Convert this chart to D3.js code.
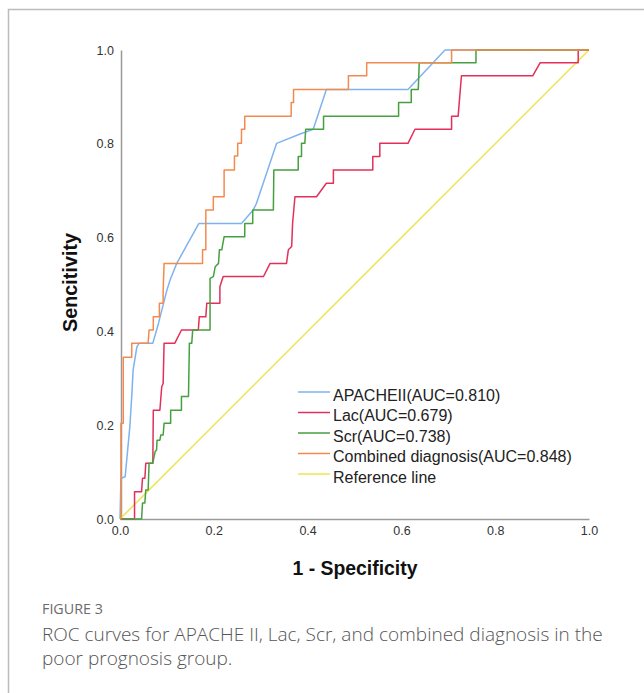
<!DOCTYPE html>
<html>
<head>
<meta charset="utf-8">
<script src="https://cdn.jsdelivr.net/npm/d3@7"></script>
<style>
  body { margin: 0; background: white; }
</style>
</head>
<body>
<div id="container"></div>
<script>
// ROC points: [1 - specificity, sensitivity]
let apache = [[0,0],[0.002,0.087],[0.011,0.09],[0.021,0.197],[0.025,0.261],[0.028,0.318],[0.036,0.367],[0.041,0.375],[0.07,0.375],[0.082,0.417],[0.1,0.488],[0.107,0.51],[0.121,0.545],[0.168,0.63],[0.259,0.63],[0.284,0.659],[0.291,0.673],[0.334,0.801],[0.384,0.821],[0.412,0.831],[0.44,0.916],[0.614,0.916],[0.693,1],[1,1]];

let lac = [[0,0],[0.031,0],[0.031,0.058],[0.046,0.058],[0.048,0.087],[0.053,0.087],[0.055,0.119],[0.07,0.119],[0.071,0.232],[0.085,0.232],[0.089,0.282],[0.092,0.289],[0.094,0.375],[0.117,0.375],[0.131,0.403],[0.167,0.403],[0.169,0.431],[0.183,0.431],[0.185,0.46],[0.213,0.46],[0.213,0.495],[0.22,0.517],[0.306,0.517],[0.32,0.545],[0.355,0.545],[0.359,0.574],[0.366,0.581],[0.368,0.63],[0.373,0.687],[0.419,0.687],[0.44,0.716],[0.455,0.716],[0.455,0.744],[0.539,0.744],[0.539,0.773],[0.554,0.773],[0.554,0.801],[0.614,0.801],[0.629,0.831],[0.707,0.831],[0.707,0.859],[0.721,0.859],[0.728,0.945],[0.88,0.945],[0.896,0.973],[0.977,0.973],[0.977,1],[1,1]];

let scr = [[0,0],[0.046,0],[0.048,0.034],[0.053,0.034],[0.055,0.062],[0.06,0.062],[0.062,0.119],[0.07,0.119],[0.075,0.144],[0.078,0.147],[0.079,0.168],[0.085,0.168],[0.087,0.179],[0.092,0.179],[0.094,0.204],[0.108,0.204],[0.108,0.232],[0.131,0.232],[0.131,0.261],[0.146,0.261],[0.148,0.375],[0.153,0.375],[0.155,0.403],[0.192,0.403],[0.192,0.513],[0.199,0.517],[0.203,0.538],[0.21,0.545],[0.212,0.574],[0.217,0.574],[0.222,0.602],[0.266,0.602],[0.266,0.63],[0.283,0.63],[0.283,0.659],[0.327,0.659],[0.328,0.744],[0.38,0.744],[0.38,0.773],[0.387,0.773],[0.387,0.801],[0.394,0.801],[0.396,0.831],[0.434,0.831],[0.434,0.859],[0.594,0.859],[0.594,0.888],[0.621,0.888],[0.621,0.916],[0.636,0.916],[0.638,0.973],[0.759,0.973],[0.759,1],[1,1]];

let combined = [[0,0],[0.002,0],[0.002,0.204],[0.007,0.204],[0.007,0.345],[0.025,0.345],[0.025,0.375],[0.06,0.375],[0.062,0.403],[0.071,0.403],[0.071,0.431],[0.084,0.431],[0.084,0.46],[0.092,0.46],[0.092,0.488],[0.094,0.545],[0.176,0.545],[0.176,0.574],[0.183,0.574],[0.183,0.659],[0.199,0.659],[0.199,0.687],[0.222,0.687],[0.222,0.744],[0.244,0.744],[0.244,0.774],[0.251,0.774],[0.251,0.801],[0.259,0.801],[0.259,0.831],[0.266,0.831],[0.266,0.859],[0.365,0.859],[0.365,0.888],[0.37,0.888],[0.37,0.916],[0.487,0.916],[0.487,0.945],[0.526,0.945],[0.526,0.973],[0.707,0.973],[0.707,1],[1,1]];

let reference = [[0,0],[1,1]];

let seriesNames = ["APACHEII(AUC=0.810)", "Lac(AUC=0.679)", "Scr(AUC=0.738)", "Combined diagnosis(AUC=0.848)", "Reference line"];
let seriesColors = ["#7fb3ee", "#e2305a", "#46a040", "#f48a4e", "#ede54f"];
let tickValues = [0, 0.2, 0.4, 0.6, 0.8, 1.0];

let w = 644;
let h = 693;

let svg = d3.select("#container")
  .append("svg")
    .attr("width", w)
    .attr("height", h)
    .style("font-family", "'Liberation Sans', Arial, sans-serif")
;

// frame (only top and left edges show in the crop)
svg.append("path")
    .attr("d", "M8.5," + h + "V9.5H" + w)
    .attr("fill", "none")
    .attr("stroke", "#bcbcbc")
    .attr("stroke-width", 1.5)
;

let xScale = d3.scaleLinear().domain([0, 1]).range([120, 589]);
let yScale = d3.scaleLinear().domain([0, 1]).range([519, 50]);

// axes: plain lines, no tick marks
let xAxis = svg.append("g")
    .attr("transform", "translate(0," + yScale(0) + ")")
    .call(d3.axisBottom(xScale).tickValues(tickValues).tickFormat(d3.format(".1f")).tickSize(0).tickPadding(7))
;
let yAxis = svg.append("g")
    .attr("transform", "translate(" + (xScale(0) + 1) + ",0)")
    .call(d3.axisLeft(yScale).tickValues(tickValues).tickFormat(d3.format(".1f")).tickSize(0).tickPadding(7))
;
[xAxis, yAxis].forEach(function(ax){
  ax.select(".domain").attr("stroke", "#9a9a9a").attr("stroke-width", 1.5);
  ax.selectAll("text")
      .attr("fill", "#333")
      .style("font-size", "12.5px")
      .style("font-family", "'Liberation Sans', Arial, sans-serif");
});

let line = d3.line()
    .x(function(d){ return xScale(d[0]); })
    .y(function(d){ return yScale(d[1]); })
;

let allSeries = [apache, lac, scr, combined, reference];

// reference line underneath, then the curves
let drawOrder = [4, 0, 1, 2, 3];
drawOrder.forEach(function(i){
  svg.append("path")
      .datum(allSeries[i])
      .attr("d", line)
      .attr("fill", "none")
      .attr("stroke", seriesColors[i])
      .attr("stroke-width", 1.5)
      .attr("stroke-linejoin", "round")
  ;
});

// legend
let legend = svg.append("g").attr("transform", "translate(298,392)");
let items = legend.selectAll("g").data(seriesNames).enter()
  .append("g")
    .attr("transform", function(d, i){ return "translate(0," + (i * 20.5) + ")"; })
;
items.append("line")
    .attr("x1", 0).attr("x2", 32)
    .attr("y1", 0).attr("y2", 0)
    .attr("stroke", function(d, i){ return seriesColors[i]; })
    .attr("stroke-width", 1.5)
;
items.append("text")
    .text(function(d){ return d; })
    .attr("x", 35)
    .attr("y", 8.5)
    .attr("fill", "#222")
    .style("font-size", "16px")
;

// axis titles
svg.append("text")
    .text("1 - Specificity")
    .attr("x", 355)
    .attr("y", 575)
    .attr("text-anchor", "middle")
    .attr("fill", "#111")
    .style("font-size", "19.4px")
    .style("font-weight", "bold")
;
svg.append("text")
    .text("Sencitivity")
    .attr("transform", "translate(77,282.5) rotate(-90)")
    .attr("text-anchor", "middle")
    .attr("fill", "#111")
    .style("font-size", "19.8px")
    .style("font-weight", "bold")
;

// caption
svg.append("text")
    .text("FIGURE 3")
    .attr("x", 42)
    .attr("y", 614)
    .attr("fill", "#6b6b6b")
    .style("font-family", "'Open Sans', 'Noto Sans', sans-serif")
    .style("font-size", "14.3px")
;
let captionLines = ["ROC curves for APACHE II, Lac, Scr, and combined diagnosis in the", "poor prognosis group."];
svg.selectAll(".caption").data(captionLines).enter()
  .append("text")
    .classed("caption", true)
    .text(function(d){ return d; })
    .attr("x", 42)
    .attr("y", function(d, i){ return 641 + i * 24; })
    .attr("fill", "#555")
    .style("font-family", "'Open Sans', 'Noto Sans', sans-serif")
    .style("font-size", "19px")
    .style("font-weight", "300")
;
</script>
</body>
</html>
